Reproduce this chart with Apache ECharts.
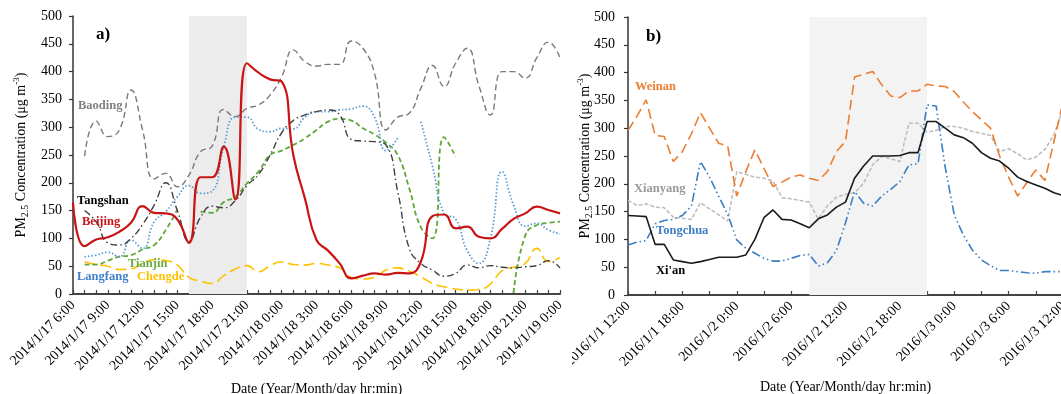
<!DOCTYPE html>
<html><head><meta charset="utf-8">
<script src="https://cdn.jsdelivr.net/npm/echarts@6/dist/echarts.min.js"></script>
<style>
html,body{margin:0;padding:0;width:1061px;height:394px;overflow:hidden;background:#fff;}
#a{position:absolute;left:0;top:0;width:572px;height:394px;}
#b{position:absolute;left:572px;top:0;width:500px;height:394px;}
</style></head><body>
<div id="a"></div><div id="b"></div>
<script>
// ---------- panel a) : hourly values from 2014/1/17 6:00 (index 0) to 2014/1/19 0:00 (index 42)
const leftTicks = ['2014/1/17 6:00','2014/1/17 9:00','2014/1/17 12:00','2014/1/17 15:00','2014/1/17 18:00','2014/1/17 21:00','2014/1/18 0:00','2014/1/18 3:00','2014/1/18 6:00','2014/1/18 9:00','2014/1/18 12:00','2014/1/18 15:00','2014/1/18 18:00','2014/1/18 21:00','2014/1/19 0:00'];
const beijing  = [165,86,98,102,112,128,158,146,145,134,92,210,210,265,170,415,398,386,382,250,172,97,78,55,28,33,37,35,38,37,58,140,143,118,121,103,100,117,135,145,157,151,145];
const baoding  = [null,248,311,283,295,367,295,207,217,193,214,256,266,332,319,334,340,358,391,439,418,410,413,413,455,442,397,295,318,325,370,411,373,415,442,375,322,400,400,388,425,453,425];
const tangshan = [null,150,130,92,88,100,125,160,200,150,95,138,158,155,168,195,215,250,290,312,322,328,331,322,278,275,274,268,185,82,55,43,32,37,52,47,51,48,47,49,51,60,47];
const langfang = [null,67,70,75,67,97,82,130,148,175,195,181,185,265,318,318,296,292,298,297,318,328,328,331,333,338,318,258,280,null,310,230,145,135,78,55,100,220,160,122,127,115,108];
const tianjin  = [null,53,53,60,67,70,80,88,115,152,null,148,146,165,175,199,220,250,258,268,280,295,310,315,312,298,287,272,250,190,120,100,282,247,null,null,null,null,2,105,124,128,130];
const chengde  = [null,58,53,50,44,45,55,62,60,52,30,23,19,33,45,51,40,51,58,53,52,55,52,47,30,27,30,43,47,41,31,19,13,9,7,8,18,42,48,55,82,58,66];
const leftShade = [10, 15];

// ---------- panel b) : hourly values from 2016/1/1 12:00 (index 0) to 2016/1/3 12:00 (index 48)
const rightTicks = ['2016/1/1 12:00','2016/1/1 18:00','2016/1/2 0:00','2016/1/2 6:00','2016/1/2 12:00','2016/1/2 18:00','2016/1/3 0:00','2016/1/3 6:00','2016/1/3 12:00'];
const xian      = [143,142,141,91,91,63,60,57,60,64,68,68,68,72,100,139,153,136,135,128,121,137,144,158,167,210,232,250,250,250,251,256,256,312,312,300,288,283,273,256,246,241,228,212,204,198,192,184,179];
const weinan    = [296,322,351,287,285,240,258,290,328,300,273,268,178,222,261,228,195,203,212,216,210,206,222,258,276,392,397,402,378,358,355,367,367,379,376,375,366,347,330,315,300,250,212,178,202,225,206,276,347];
const xianyang  = [170,161,164,158,157,140,138,136,166,155,144,133,222,217,212,210,205,175,173,170,167,137,160,176,181,184,201,234,249,245,240,309,309,293,296,303,303,300,294,291,287,258,263,254,243,248,262,288,335];
const tongchua  = [90,95,98,128,134,136,143,160,240,212,178,145,99,84,75,66,61,61,66,71,73,52,58,80,130,186,165,160,178,190,204,234,236,342,340,230,144,108,81,63,53,44,44,42,40,39,42,42,42];
const rightShade = [20, 33];

const FONT = 'Liberation Serif';
const toPairs = arr => arr.map((v, i) => [i, v == null ? '-' : v]);

function yAxisCfg(gap, margin) {
  return {
    type: 'value', min: 0, max: 500, interval: 50,
    name: '{a|PM}{s|2.5}{a| Concentration (μg m}{u|-3}{a|)}',
    nameLocation: 'middle', nameGap: gap, nameMoveOverlap: false,
    nameTextStyle: {
      color: '#000', fontFamily: FONT, fontSize: 14,
      rich: {
        a: {fontFamily: FONT, fontSize: 14, color: '#000', lineHeight: 18, verticalAlign: 'middle'},
        s: {fontFamily: FONT, fontSize: 10, color: '#000', lineHeight: 10, verticalAlign: 'bottom'},
        u: {fontFamily: FONT, fontSize: 9, color: '#000', lineHeight: 9, verticalAlign: 'top'}
      }
    },
    axisLine: {show: true, lineStyle: {color: '#333', width: 1.5}},
    axisTick: {show: true, length: 4, lineStyle: {color: '#333', width: 1.2}},
    axisLabel: {color: '#000', fontFamily: FONT, fontSize: 14, margin: margin},
    splitLine: {show: false}
  };
}
function xAxisCfg(max, tickEvery, labelEvery, ticks, gap) {
  return {
    type: 'value', min: 0, max: max, interval: tickEvery,
    name: 'Date (Year/Month/day hr:min)', nameLocation: 'middle', nameGap: gap, nameMoveOverlap: false,
    nameTextStyle: {color: '#000', fontFamily: FONT, fontSize: 14},
    axisLine: {show: true, lineStyle: {color: '#444', width: 2}},
    axisTick: {show: true, inside: true, length: 4, lineStyle: {color: '#444', width: 1.2}},
    axisLabel: {
      color: '#000', fontFamily: FONT, fontSize: 14, rotate: 45, margin: 9,
      showMinLabel: true, showMaxLabel: true,
      formatter: v => (Math.round(v) % labelEvery === 0 ? ticks[Math.round(v) / labelEvery] : '')
    },
    splitLine: {show: false}
  };
}
function line(name, data, color, type, width, smooth) {
  return {
    name, type: 'line', data: toPairs(data), smooth: smooth, showSymbol: false, symbol: 'none',
    z: 3, silent: true, animation: false,
    lineStyle: {color, type, width, cap: 'butt'}
  };
}
function shade(range, color) {
  return {
    type: 'line', data: [], z: 1, silent: true, animation: false,
    markArea: {silent: true, itemStyle: {color}, data: [[{xAxis: range[0]}, {xAxis: range[1]}]]}
  };
}
function txt(x, y, s, color, size) {
  return {type: 'text', left: x, top: y, z: 100, silent: true,
    style: {text: s, fill: color, font: 'bold ' + size + 'px "' + FONT + '"', textVerticalAlign: 'middle'}};
}

const ca = echarts.init(document.getElementById('a'), null, {renderer: 'canvas'});
ca.setOption({
  animation: false,
  grid: {left: 73, right: 12, top: 16, bottom: 100, outerBoundsMode: 'none', containLabel: false},
  xAxis: xAxisCfg(42, 1, 3, leftTicks, 88),
  yAxis: yAxisCfg(43, 11),
  series: [
    shade(leftShade, '#ececec'),
    line('Chengde', chengde, '#ffc000', [11, 5], 1.6, true),
    line('Tianjin', tianjin, '#5fa838', [5, 3], 1.8, true),
    line('Langfang', langfang, '#5b9bd5', [1.5, 2], 1.8, true),
    line('Tangshan', tangshan, '#404040', [7, 3, 1.5, 3], 1.4, true),
    line('Baoding', baoding, '#7a7a7a', [6, 3.5], 1.4, true),
    line('Beijing', beijing, '#c81414', 'solid', 2.2, true)
  ],
  graphic: [
    txt(96, 26, 'a)', '#000', 17),
    txt(78, 99, 'Baoding', '#808080', 12.5),
    txt(77, 194, 'Tangshan', '#000', 12.5),
    txt(82, 215, 'Beijing', '#c81414', 12.5),
    txt(128, 257, 'Tianjin', '#6aaa3f', 12.5),
    txt(77, 270, 'Langfang', '#3f7fc8', 12.5),
    txt(137, 270, 'Chengde', '#ffc000', 12.5)
  ]
});

const cb = echarts.init(document.getElementById('b'), null, {renderer: 'canvas'});
cb.setOption({
  animation: false,
  grid: {left: 56, right: 9, top: 17, bottom: 99, outerBoundsMode: 'none', containLabel: false},
  xAxis: xAxisCfg(48, 3, 6, rightTicks, 85),
  yAxis: yAxisCfg(34, 13),
  series: [
    shade(rightShade, '#f3f3f3'),
    line('Xianyang', xianyang, '#bdbdbd', [4, 2], 1.6, false),
    line('Tongchua', tongchua, '#3a7dc4', [9, 3, 1.5, 3, 1.5, 3], 1.6, false),
    line('Weinan', weinan, '#ed7d31', [10, 5], 1.6, false),
    line("Xi'an", xian, '#1a1a1a', 'solid', 1.6, false)
  ],
  graphic: [
    txt(74, 28, 'b)', '#000', 17),
    txt(63, 80, 'Weinan', '#ed7d31', 12.5),
    txt(62, 182, 'Xianyang', '#999999', 12.5),
    txt(84, 224, 'Tongchua', '#3a7dc4', 12.5),
    txt(84, 264, "Xi'an", '#000', 12.5)
  ]
});
</script>
</body></html>
